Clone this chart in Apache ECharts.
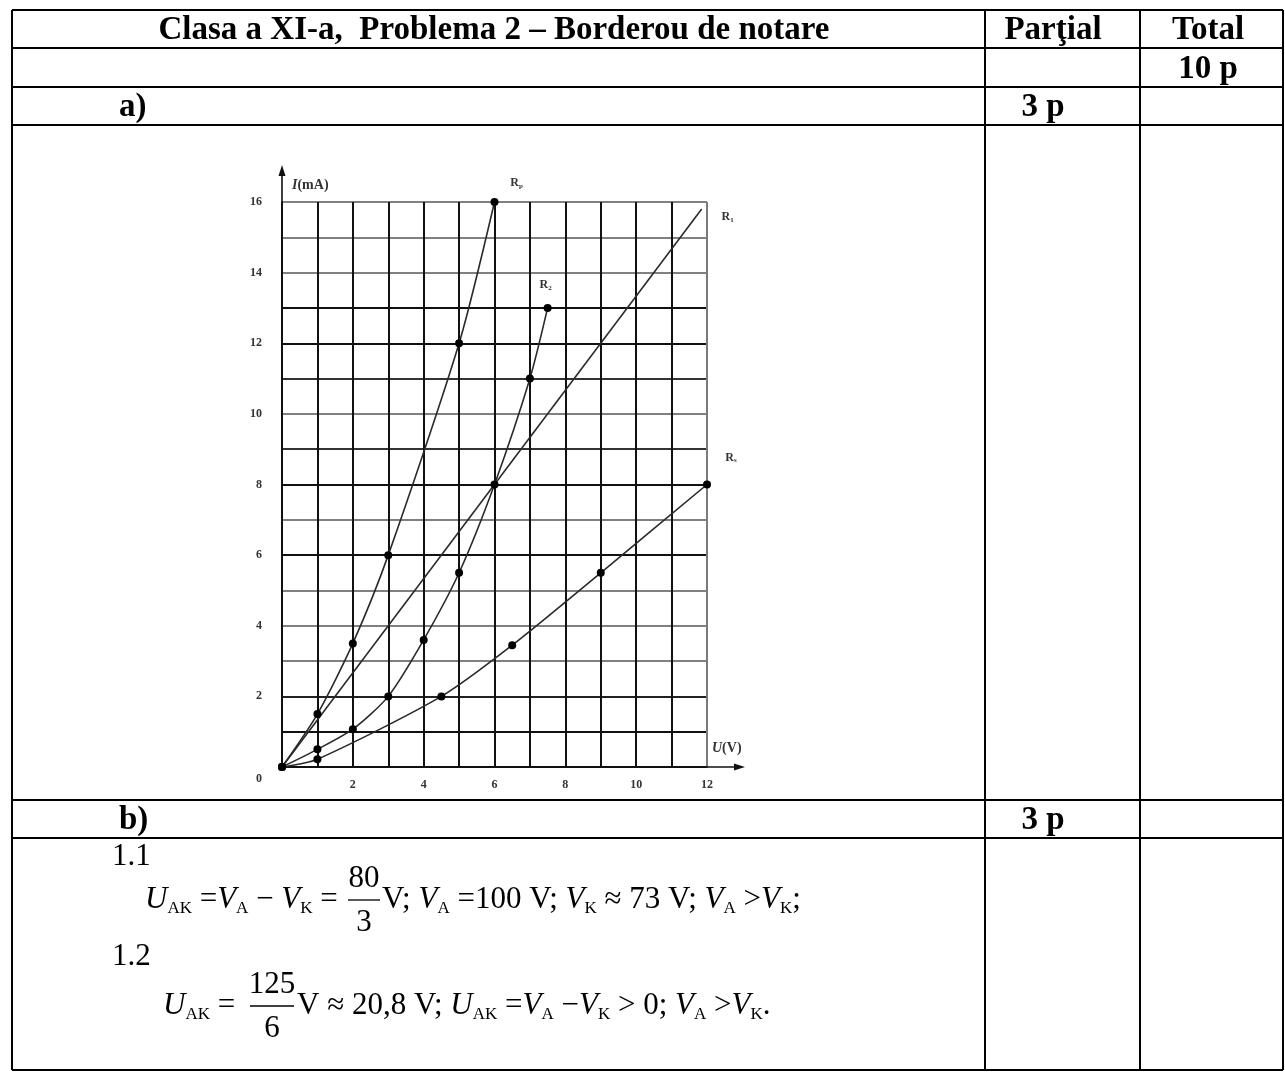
<!DOCTYPE html>
<html>
<head>
<meta charset="utf-8">
<script src="https://cdn.jsdelivr.net/npm/echarts@6/dist/echarts.min.js"></script>
<style>
  html, body { margin: 0; padding: 0; background: #fff; }
  #chart { width: 1285px; height: 1072px; }
</style>
</head>
<body>
<div id="chart"></div>
<script>
// Tick labels of the I(U) characteristic
const uTicks = [2, 4, 6, 8, 10, 12];
const iTicks = [2, 4, 6, 8, 10, 12, 14, 16];

// Measured points: voltage U (V) and current I (mA)
const rpU = [0, 1, 2, 3, 5, 6];
const rpI = [0, 1.5, 3.5, 6, 12, 16];

const r1U = [0, 11.85];
const r1I = [0, 15.8];

const r2U = [0, 1, 2, 3, 4, 5, 6, 7, 7.5];
const r2I = [0, 0.5, 1.07, 2, 3.6, 5.5, 8, 11, 13];

const rsU = [0, 1, 4.5, 6.5, 9, 12];
const rsI = [0, 0.22, 2, 3.45, 5.5, 8];

const curveNames = ['p', '1', '2', 's'];

const SERIF = '"Liberation Serif", "DejaVu Serif", serif';

const chart = echarts.init(document.getElementById('chart'), null, { renderer: 'canvas' });

// grid line shades, one entry per gridline
const vGridColors = ['#111','#111','#111','#111','#111','#111','#111','#111','#111','#111','#111','#111','#7a7a7a'];
const hGridColors = ['#111','#111','#222','#808080','#808080','#808080','#111','#808080','#111',
                     '#333','#808080','#333','#111','#111','#808080','#808080','#808080'];

function pairs(us, is) {
  return us.map((u, k) => [u, is[k]]);
}

function withEndLabel(data, name, offset) {
  const last = data.length - 1;
  return data.map((p, k) => k === last ? {
    value: p,
    label: {
      show: true,
      position: 'inside',
      offset: offset,
      formatter: '{r|R}{s|' + name + '}',
      rich: {
        r: { fontFamily: SERIF, fontWeight: 'bold', fontSize: 12, color: '#333' },
        s: { fontFamily: SERIF, fontWeight: 'bold', fontSize: 7, color: '#333', padding: [6, 0, 0, 0] }
      }
    }
  } : p);
}

const lineStyle = { color: '#2a2a2a', width: 1.6 };
const dotStyle = { color: '#000' };

const option = {
  animation: false,
  backgroundColor: '#fff',
  grid: { left: 282, top: 202, width: 425, height: 565, containLabel: false },
  xAxis: {
    type: 'value', min: 0, max: 12, interval: 1,
    axisLine: { show: true, onZero: false, lineStyle: { color: '#111', width: 1.6 } },
    axisTick: { show: false },
    axisLabel: {
      margin: 12, fontFamily: SERIF, fontWeight: 'bold', fontSize: 12, color: '#333',
      formatter: v => uTicks.includes(v) ? String(v) : ''
    },
    splitLine: { show: true, lineStyle: { color: vGridColors, width: 2 } }
  },
  yAxis: {
    type: 'value', min: 0, max: 16, interval: 1,
    axisLine: { show: true, onZero: false, lineStyle: { color: '#111', width: 1.6 } },
    axisTick: { show: false },
    axisLabel: {
      margin: 20, fontFamily: SERIF, fontWeight: 'bold', fontSize: 12, color: '#333',
      formatter: v => iTicks.includes(v) ? String(v) : ''
    },
    splitLine: { show: true, lineStyle: { color: hGridColors, width: 2 } }
  },
  series: [
    {
      name: 'R' + curveNames[0], type: 'line', smooth: 0.25,
      data: withEndLabel(pairs(rpU, rpI), curveNames[0], [22, -19]),
      symbol: 'circle', symbolSize: 8, showSymbol: true,
      lineStyle: lineStyle, itemStyle: dotStyle, z: 5
    },
    {
      name: 'R' + curveNames[1], type: 'line',
      data: withEndLabel(pairs(r1U, r1I), curveNames[1], [26, 8]),
      symbol: 'circle', symbolSize: 0, showSymbol: true,
      lineStyle: lineStyle, itemStyle: dotStyle, z: 4
    },
    {
      name: 'R' + curveNames[2], type: 'line', smooth: 0.25,
      data: withEndLabel(pairs(r2U, r2I), curveNames[2], [-2, -23]),
      symbol: 'circle', symbolSize: 8, showSymbol: true,
      lineStyle: lineStyle, itemStyle: dotStyle, z: 5
    },
    {
      name: 'R' + curveNames[3], type: 'line', smooth: 0.25,
      data: withEndLabel(pairs(rsU, rsI), curveNames[3], [24, -27]),
      symbol: 'circle', symbolSize: 8, showSymbol: true,
      lineStyle: lineStyle, itemStyle: dotStyle, z: 5
    }
  ]
};
chart.setOption(option);

// ---- axis arrows, axis names and the surrounding scoring table ----
const origin = chart.convertToPixel({ gridIndex: 0 }, [0, 0]);
const topEnd = chart.convertToPixel({ gridIndex: 0 }, [0, 16]);
const rightEnd = chart.convertToPixel({ gridIndex: 0 }, [12, 0]);

const BOLD = { fontFamily: SERIF, fontWeight: 'bold', fill: '#000' };
const headSize = 33;
const mathSize = 31;
const rowLine = 2;

function hLine(x1, x2, y, w) {
  return { type: 'line', shape: { x1, y1: y, x2, y2: y }, style: { stroke: '#000', lineWidth: w || rowLine }, z: 20 };
}
function vLine(x, y1, y2, w) {
  return { type: 'line', shape: { x1: x, y1, x2: x, y2 }, style: { stroke: '#000', lineWidth: w || rowLine }, z: 20 };
}
function txt(x, y, text, extra) {
  return {
    type: 'text', z: 21,
    style: Object.assign({ x, y, text, fontSize: headSize, align: 'center', verticalAlign: 'middle' }, BOLD, extra || {})
  };
}

const richMath = {
  it: { fontFamily: SERIF, fontStyle: 'italic', fontSize: mathSize, lineHeight: 40, verticalAlign: 'middle', fill: '#000' },
  n:  { fontFamily: SERIF, fontSize: mathSize, lineHeight: 40, verticalAlign: 'middle', fill: '#000' },
  sub:{ fontFamily: SERIF, fontSize: 17, lineHeight: 17, verticalAlign: 'bottom', padding: [0, 0, 3, 0], fill: '#000' }
};
function mathText(x, y, text) {
  return { type: 'text', z: 21, style: { x, y, text, rich: richMath, align: 'left', verticalAlign: 'middle', fill: '#000' } };
}
function fraction(cx, y, num, den, halfWidth) {
  return [
    { type: 'text', z: 21, style: { x: cx, y: y - 21, text: num, fontFamily: SERIF, fontSize: mathSize, align: 'center', verticalAlign: 'middle', fill: '#000' } },
    { type: 'line', z: 21, shape: { x1: cx - halfWidth, y1: y, x2: cx + halfWidth, y2: y }, style: { stroke: '#000', lineWidth: 1.3 } },
    { type: 'text', z: 21, style: { x: cx, y: y + 23, text: den, fontFamily: SERIF, fontSize: mathSize, align: 'center', verticalAlign: 'middle', fill: '#000' } }
  ];
}

const L = 12, R = 1283, C1 = 985, C2 = 1140;
const rows = [10, 48, 87, 125, 800, 838, 1070];

const axisNameRich = {
  i: { fontFamily: SERIF, fontStyle: 'italic', fontWeight: 'bold', fontSize: 14, fill: '#333' },
  n: { fontFamily: SERIF, fontWeight: 'bold', fontSize: 14, fill: '#333' }
};

const graphics = [
  // axis extensions with arrowheads
  { type: 'line', shape: { x1: topEnd[0], y1: topEnd[1], x2: topEnd[0], y2: topEnd[1] - 33 }, style: { stroke: '#111', lineWidth: 1.6 }, z: 10 },
  { type: 'polygon', shape: { points: [[topEnd[0], topEnd[1] - 37], [topEnd[0] - 3.5, topEnd[1] - 26], [topEnd[0] + 3.5, topEnd[1] - 26]] }, style: { fill: '#111' }, z: 10 },
  { type: 'line', shape: { x1: rightEnd[0], y1: rightEnd[1], x2: rightEnd[0] + 33, y2: rightEnd[1] }, style: { stroke: '#111', lineWidth: 1.6 }, z: 10 },
  { type: 'polygon', shape: { points: [[rightEnd[0] + 38, rightEnd[1]], [rightEnd[0] + 27, rightEnd[1] - 3.5], [rightEnd[0] + 27, rightEnd[1] + 3.5]] }, style: { fill: '#111' }, z: 10 },
  // axis names and origin label
  { type: 'text', z: 10, style: { x: origin[0] + 10, y: topEnd[1] - 17, text: '{i|I}{n|(mA)}', align: 'left', verticalAlign: 'middle', rich: axisNameRich } },
  { type: 'text', z: 10, style: { x: rightEnd[0] + 5, y: rightEnd[1] - 19, text: '{i|U}{n|(V)}', align: 'left', verticalAlign: 'middle', rich: axisNameRich } },
  { type: 'text', z: 10, style: { x: origin[0] - 26, y: origin[1] + 12, text: '0', fontFamily: SERIF, fontWeight: 'bold', fontSize: 12, fill: '#333', align: 'left', verticalAlign: 'middle' } },

  // table frame
  hLine(L, R, rows[0]), hLine(L, R, rows[1]), hLine(L, R, rows[2]), hLine(L, R, rows[3]),
  hLine(L, R, rows[4]), hLine(L, R, rows[5]), hLine(L, R, rows[6]),
  vLine(L, rows[0], rows[6]), vLine(R, rows[0], rows[6]),
  vLine(C1, rows[0], rows[6]), vLine(C2, rows[0], rows[6]),

  // table headings
  txt(494, 30, 'Clasa a XI-a,  Problema 2 – Borderou de notare'),
  txt(1053, 30, 'Parţial'),
  txt(1208, 30, 'Total'),
  txt(1208, 69, '10 p'),
  txt(119, 107, 'a)', { align: 'left' }),
  txt(1043, 107, '3 p'),
  txt(119, 820, 'b)', { align: 'left' }),
  txt(1043, 820, '3 p'),

  // part b) answers
  { type: 'text', z: 21, style: { x: 112, y: 857, text: '1.1', fontFamily: SERIF, fontSize: mathSize, fill: '#000', align: 'left', verticalAlign: 'middle' } },
  mathText(145, 900, '{it|U}{sub|AK}{n| =}{it|V}{sub|A}{n| − }{it|V}{sub|K}{n| =}'),
  ...fraction(364, 900, '80', '3', 16),
  mathText(382, 900, '{n|V; }{it|V}{sub|A}{n| =100 V; }{it|V}{sub|K}{n| ≈ 73 V; }{it|V}{sub|A}{n| >}{it|V}{sub|K}{n|;}'),
  { type: 'text', z: 21, style: { x: 112, y: 957, text: '1.2', fontFamily: SERIF, fontSize: mathSize, fill: '#000', align: 'left', verticalAlign: 'middle' } },
  mathText(163, 1006, '{it|U}{sub|AK}{n| =}'),
  ...fraction(272, 1006, '125', '6', 22),
  mathText(297, 1006, '{n|V ≈ 20,8 V; }{it|U}{sub|AK}{n| =}{it|V}{sub|A}{n| −}{it|V}{sub|K}{n| > 0; }{it|V}{sub|A}{n| >}{it|V}{sub|K}{n|.}')
];

chart.setOption({ graphic: graphics });
</script>
</body>
</html>
